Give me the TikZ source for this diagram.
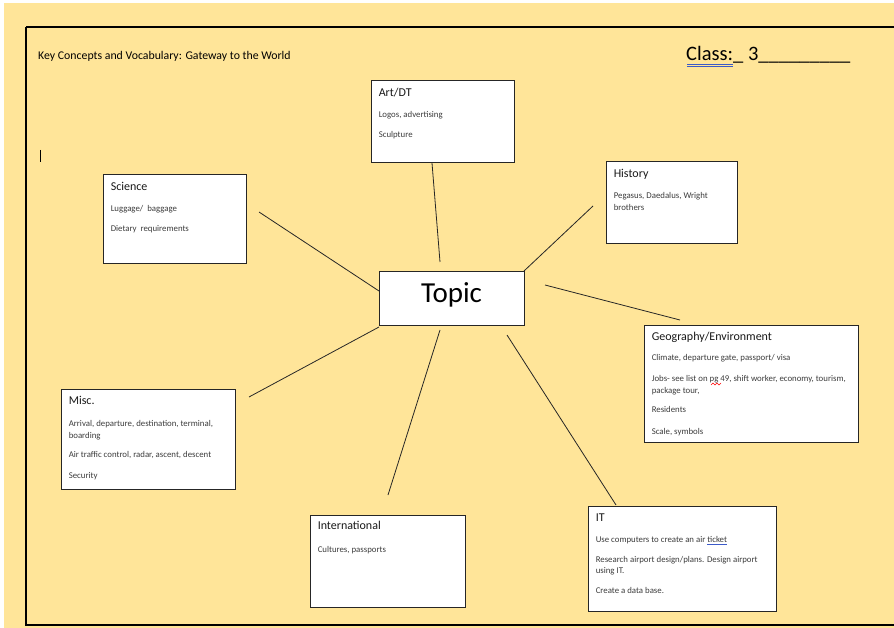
\documentclass[tikz,border=0pt]{standalone}
\usepackage{fontspec}
\setmainfont{Carlito}
\usetikzlibrary{calc}
\definecolor{bgyellow}{RGB}{255,229,153}
\definecolor{bodygray}{RGB}{60,60,60}
\definecolor{spellblue}{RGB}{60,90,200}
\begin{document}
\begin{tikzpicture}[x=1pt,y=-1pt,
  topicbox/.style={draw=black!85,line width=0.9pt,fill=white,inner sep=0pt},
  ttl/.style={anchor=base west,inner sep=0pt,font=\fontsize{12}{14}\selectfont,text=black!90},
  bodytxt/.style={anchor=base west,inner sep=0pt,font=\fontsize{8.8}{12}\selectfont,text=bodygray},
  spoke/.style={draw=black!85,line width=0.8pt}]
\useasboundingbox (0,0) rectangle (894,628);
\fill[white] (0,0) rectangle (894,628);
\fill[bgyellow] (4,3) rectangle (894,628);
\draw[line width=2.4pt,black] (26,27) -- (900,27);
\draw[line width=2.4pt,black] (26,27) -- (26,625) -- (900,625);
% cursor mark
\draw[line width=0.7pt] (40,150) -- (40,162);
% header texts
\node[anchor=base west,inner sep=0pt,font=\fontsize{11.8}{13}\selectfont] (hdr) at (38,60) {Key Concepts and Vocabulary: Gateway to the World};
\node[anchor=base west,inner sep=0pt,font=\fontsize{20.5}{22}\selectfont] (cls) at (686,61) {Class:\_ 3\_\_\_\_\_\_\_\_\_};
\draw[spellblue,line width=0.6pt] (687,64) -- (733,64);
\draw[spellblue,line width=0.6pt] (687,66) -- (733,66);
% boxes
\node[topicbox,minimum width=143pt,minimum height=82pt] (art) at (442.5,121) {};
\node[topicbox,minimum width=143pt,minimum height=89pt] (sci) at (174.5,218.5) {};
\node[topicbox,minimum width=131pt,minimum height=82pt] (his) at (671.5,202) {};
\node[topicbox,minimum width=145pt,minimum height=54pt] (topic) at (451.5,298) {};
\node[topicbox,minimum width=214pt,minimum height=117pt] (geo) at (751,383.5) {};
\node[topicbox,minimum width=174pt,minimum height=100pt] (misc) at (148,439) {};
\node[topicbox,minimum width=155pt,minimum height=92pt] (intl) at (387.5,561) {};
\node[topicbox,minimum width=188pt,minimum height=105pt] (it) at (682,558.5) {};
% topic label
\node[inner sep=0pt,font=\fontsize{29}{31}\selectfont] (topiclbl) at ($(topic.center)+(0,-3)$) {Topic};
% Art/DT
\node[ttl] (artt) at ($(art.north west)+(8,17)$) {Art/DT};
\node[bodytxt] (art1) at ($(art.north west)+(8,38)$) {Logos, advertising};
\node[bodytxt] (art2) at ($(art.north west)+(8,58)$) {Sculpture};
% Science
\node[ttl] (scit) at ($(sci.north west)+(8,17)$) {Science};
\node[bodytxt] (sci1) at ($(sci.north west)+(8,38)$) {Luggage/\ \ baggage};
\node[bodytxt] (sci2) at ($(sci.north west)+(8,58)$) {Dietary\ \ requirements};
% History
\node[ttl] (hist) at ($(his.north west)+(8,17)$) {History};
\node[bodytxt] (his1) at ($(his.north west)+(8,38)$) {Pegasus, Daedalus, Wright};
\node[bodytxt] (his2) at ($(his.north west)+(8,50)$) {brothers};
% Geography
\node[ttl] (geot) at ($(geo.north west)+(8,16)$) {Geography/Environment};
\node[bodytxt] (geo1) at ($(geo.north west)+(8,36)$) {Climate, departure gate, passport/ visa};
\node[bodytxt] (geo2) at ($(geo.north west)+(8,57)$) {Jobs- see list on pg 49, shift worker, economy, tourism,};
\node[bodytxt] (geo3) at ($(geo.north west)+(8,69)$) {package tour,};
\node[bodytxt] (geo4) at ($(geo.north west)+(8,88)$) {Residents};
\node[bodytxt] (geo5) at ($(geo.north west)+(8,110)$) {Scale, symbols};
\draw[red,line width=0.5pt] (711,385) -- (713,383) -- (715,385) -- (717,383) -- (719,385) -- (721,383);
% Misc
\node[ttl] (misct) at ($(misc.north west)+(8,16)$) {Misc.};
\node[bodytxt] (misc1) at ($(misc.north west)+(8,38)$) {Arrival, departure, destination, terminal,};
\node[bodytxt] (misc2) at ($(misc.north west)+(8,50)$) {boarding};
\node[bodytxt] (misc3) at ($(misc.north west)+(8,69)$) {Air traffic control, radar, ascent, descent};
\node[bodytxt] (misc4) at ($(misc.north west)+(8,90)$) {Security};
% International
\node[ttl] (intlt) at ($(intl.north west)+(8,15)$) {International};
\node[bodytxt] (intl1) at ($(intl.north west)+(8,38)$) {Cultures, passports};
% IT
\node[ttl] (itt) at ($(it.north west)+(8,16)$) {IT};
\node[bodytxt] (it1) at ($(it.north west)+(8,37)$) {Use computers to create an air ticket};
\node[bodytxt] (it2) at ($(it.north west)+(8,57)$) {Research airport design/plans. Design airport};
\node[bodytxt] (it3) at ($(it.north west)+(8,68)$) {using IT.};
\node[bodytxt] (it4) at ($(it.north west)+(8,88)$) {Create a data base.};
\draw[spellblue,line width=0.5pt] ($(it1.base east)+(-20,2)$) -- ($(it1.base east)+(0,2)$);
% spoke end points
\coordinate (a1) at (432,163); \coordinate (a2) at (440,262);
\coordinate (s1) at (259,212); \coordinate (s2) at (379,291);
\coordinate (h1) at (593,206); \coordinate (h2) at (524,271);
\coordinate (g1) at (545,285); \coordinate (g2) at (680,320);
\coordinate (m1) at (249,397); \coordinate (m2) at (379,327);
\coordinate (n1) at (388,495); \coordinate (n2) at (440,330);
\coordinate (i1) at (507,335); \coordinate (i2) at (616,505);
\draw[spoke] (a1) -- (a2);
\draw[spoke] (s1) -- (s2);
\draw[spoke] (h1) -- (h2);
\draw[spoke] (g1) -- (g2);
\draw[spoke] (m1) -- (m2);
\draw[spoke] (n1) -- (n2);
\draw[spoke] (i1) -- (i2);
\end{tikzpicture}
\end{document}
